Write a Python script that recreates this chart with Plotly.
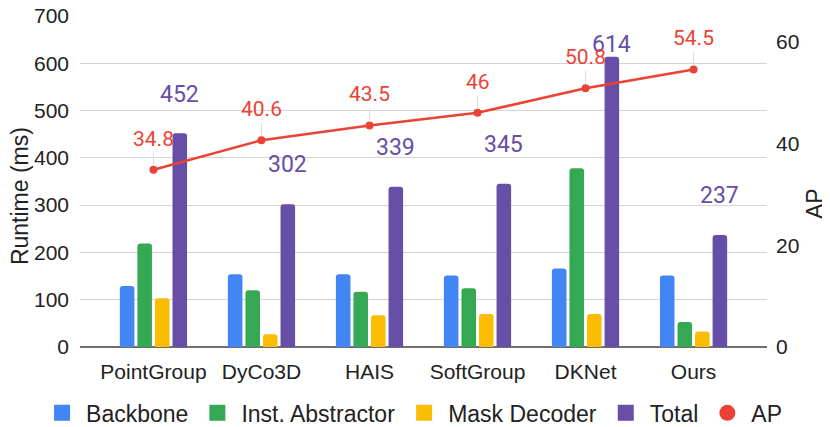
import plotly.graph_objects as go

methods = ["PointGroup", "DyCo3D", "HAIS", "SoftGroup", "DKNet", "Ours"]
backbone = [129, 154, 154, 151, 166, 151]
inst_abstractor = [219, 120, 117, 124, 378, 53]
mask_decoder = [103, 27, 67, 70, 70, 33]
total = [452, 302, 339, 345, 614, 237]
ap = [34.8, 40.6, 43.5, 46, 50.8, 54.5]

axis_font = "Liberation Sans, Arial"
label_font = "Roboto"
bargap = 0.35

fig = go.Figure()

bar_series = [
    ("Backbone", backbone, "#4285F4"),
    ("Inst. Abstractor", inst_abstractor, "#34A853"),
    ("Mask Decoder", mask_decoder, "#FBBC04"),
    ("Total", total, "#674EA7"),
]
for name, vals, col in bar_series:
    fig.add_trace(go.Bar(x=methods, y=vals, name=name, showlegend=False,
                         marker=dict(color=col, cornerradius=3, line_width=0)))

fig.add_trace(go.Scatter(x=methods, y=ap, name="AP", yaxis="y2",
                         mode="lines+markers", showlegend=False,
                         line=dict(color="#EA4335", width=2.5),
                         marker=dict(color="#EA4335", size=8)))

# legend-only entries so the swatches come out bigger, like the sheets legend
for name, _, col in bar_series:
    fig.add_trace(go.Scatter(x=[None], y=[None], name=name, mode="markers",
                             marker=dict(color=col, size=16, symbol="square")))
fig.add_trace(go.Scatter(x=[None], y=[None], name="AP", mode="markers",
                         marker=dict(color="#EA4335", size=16)))

# total labels sit over the Total bar (4th in each group)
shift = 1.5 * (1 - bargap) / 4
for i, v in enumerate(total):
    fig.add_annotation(x=i + shift, y=min(v + 83, 640), text=str(v), showarrow=False,
                       font=dict(family=label_font, size=23, color="#674EA7"))

for m, v in zip(methods, ap):
    fig.add_annotation(x=m, y=v, yref="y2", text=str(v), showarrow=True,
                       arrowhead=0, arrowwidth=1, arrowcolor="#dddddd",
                       ax=0, ay=-31, standoff=4,
                       font=dict(family=label_font, size=21, color="#EA4335"))

# axis titles as annotations, sheets puts them a bit below the middle
fig.add_annotation(text="Runtime (ms)", xref="paper", yref="paper", x=-0.0873, y=0.456,
                   xanchor="center", yanchor="middle",
                   textangle=-90, showarrow=False, font=dict(size=23))
fig.add_annotation(text="AP", xref="paper", yref="paper", x=1.0698, y=0.435,
                   xanchor="center", yanchor="middle",
                   textangle=-90, showarrow=False, font=dict(size=23))

# page body has an 8px margin, so the figure is 8px smaller each way
fig.update_layout(
    width=822, height=419,
    margin=dict(l=72, r=63, t=8, b=80, autoexpand=False),
    paper_bgcolor="white", plot_bgcolor="white",
    barmode="group", bargap=bargap, bargroupgap=0.17,
    font=dict(family=axis_font, size=21, color="#222222"),
    xaxis=dict(range=[-0.68, 5.68], showgrid=False, ticks="",
               tickfont=dict(size=21), showline=False, ticklabelstandoff=10),
    yaxis=dict(range=[0, 700], dtick=100, gridcolor="#d3d3d3", gridwidth=1,
               zeroline=True, zerolinecolor="#6e6e6e", zerolinewidth=2,
               tickfont=dict(size=21), ticklabelstandoff=10,
               ticklabeloverflow="allow"),
    yaxis2=dict(range=[0, 65], tickvals=[0, 20, 40, 60], overlaying="y",
                side="right", showgrid=False, zeroline=False,
                tickfont=dict(size=21), ticklabelstandoff=8,
                ticklabeloverflow="allow"),
    # x < 0 and y < 0 lets plotly use the full width for a single legend row
    legend=dict(orientation="h", x=-0.061, xanchor="left",
                y=-0.199, yanchor="middle", bgcolor="rgba(0,0,0,0)",
                font=dict(size=23), itemwidth=38, traceorder="normal"),
)

fig.write_html("out.html")
